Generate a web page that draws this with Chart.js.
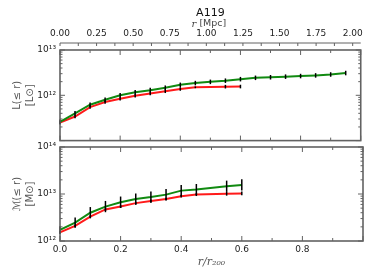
<!DOCTYPE html>
<html>
<head>
<meta charset="utf-8">
<script src="https://cdn.jsdelivr.net/npm/chart.js@4.4.1/dist/chart.umd.min.js"></script>
<style>
    html, body { margin: 0; padding: 0; background: #fff; }
    #wrap { position: relative; width: 374px; height: 280px; }
    canvas { position: absolute; left: 0; }
    #lum-chart { top: 0; }
    #mass-chart { top: 137px; }
</style>
</head>
<body>
<div id="wrap">
    <canvas id="lum-chart" width="374" height="150"></canvas>
    <canvas id="mass-chart" width="374" height="143"></canvas>
</div>
<script>
// A119 cumulative luminosity / mass profiles

const clusterName = 'A119';
const r200Mpc = 2.055;              // top axis: r/r200 = 1 -> 2.055 Mpc
const mpcLabels = [0, 0.25, 0.5, 0.75, 1.0, 1.25, 1.5, 1.75, 2.0];

// luminosity panel
const lumRadiusGreen = [0, 0.05, 0.1, 0.15, 0.2, 0.25, 0.3, 0.35, 0.4, 0.45,
                        0.5, 0.55, 0.6, 0.65, 0.7, 0.75, 0.8, 0.85, 0.9, 0.95];
const lumGreen = [2.6e11, 4.0e11, 6.2e11, 8.0e11, 1.0e12, 1.17e12, 1.3e12, 1.47e12, 1.7e12, 1.86e12,
                  1.98e12, 2.1e12, 2.27e12, 2.43e12, 2.5e12, 2.58e12, 2.66e12, 2.75e12, 2.88e12, 3.1e12];
const lumErrGreen = [0.05, 0.05, 0.05, 0.05, 0.05, 0.05, 0.05, 0.05, 0.05, 0.05,
                     0.05, 0.05, 0.05, 0.05, 0.05, 0.05, 0.05, 0.05, 0.05, 0.05];
const lumRadiusRed = [0, 0.05, 0.1, 0.15, 0.2, 0.25, 0.3, 0.35, 0.4, 0.45, 0.55, 0.6];
const lumRed = [2.5e11, 3.4e11, 5.5e11, 7.1e11, 8.4e11, 9.8e11, 1.1e12, 1.23e12, 1.38e12, 1.5e12, 1.55e12, 1.56e12];
const lumErrRed = [0.04, 0.04, 0.04, 0.04, 0.04, 0.04, 0.04, 0.04, 0.04, 0.02, 0.04, 0.04];

// mass panel
const massRadius = [0, 0.05, 0.1, 0.15, 0.2, 0.25, 0.3, 0.35, 0.4, 0.45, 0.55, 0.6];
const massGreen = [1.72e12, 2.46e12, 4.0e12, 5.4e12, 6.7e12, 7.8e12, 8.6e12, 9.7e12, 1.18e13, 1.24e13, 1.46e13, 1.56e13];
const massErrGreen = [0.08, 0.11, 0.12, 0.12, 0.12, 0.12, 0.12, 0.12, 0.12, 0.12, 0.12, 0.12];
const massRed = [1.53e12, 2.1e12, 3.3e12, 4.7e12, 5.4e12, 6.4e12, 7.1e12, 7.8e12, 9.0e12, 9.7e12, 1.01e13, 1.03e13];
const massErrRed = [0.03, 0.03, 0.03, 0.03, 0.03, 0.03, 0.03, 0.03, 0.03, 0.03, 0.04, 0.04];

const GREEN = '#118a11';
const RED = '#ff1a1a';
const FRAME = '#626262';

Chart.defaults.font.family = '"DejaVu Sans", sans-serif';
Chart.defaults.font.size = 9;
Chart.defaults.color = '#222';

const SUP = { '0': '⁰', '1': '¹', '2': '²', '3': '³', '4': '⁴', '5': '⁵', '6': '⁶', '7': '⁷', '8': '⁸', '9': '⁹' };
function powLabel(v) {
    const e = Math.log10(v);
    if (Math.abs(e - Math.round(e)) > 1e-6) return '';
    return '10' + String(Math.round(e)).split('').map(c => SUP[c]).join('');
}

function points(xs, ys) {
    return xs.map((x, i) => ({ x: x, y: ys[i] }));
}

function series(xs, ys, errs, color) {
    return {
        data: points(xs, ys),
        err: errs,
        borderColor: color,
        backgroundColor: color,
        borderWidth: 2,
        pointRadius: 0,
        fill: false,
        tension: 0
    };
}

function line(ctx, x1, y1, x2, y2) {
    ctx.beginPath();
    ctx.moveTo(x1, y1);
    ctx.lineTo(x2, y2);
    ctx.stroke();
}

// error bars, inward ticks and frame, matplotlib style
const framePlugin = {
    id: 'frameTicks',
    afterDatasetsDraw(chart) {
        const { ctx, chartArea: ca } = chart;
        const x = chart.scales.x, y = chart.scales.y;
        ctx.save();

        ctx.strokeStyle = '#000';
        ctx.lineWidth = 1.5;
        chart.data.datasets.forEach(ds => {
            ds.data.forEach((p, j) => {
                const f = Math.pow(10, ds.err[j]);
                const px = x.getPixelForValue(p.x);
                line(ctx, px, y.getPixelForValue(p.y * f), px, y.getPixelForValue(p.y / f));
            });
        });

        ctx.strokeStyle = FRAME;
        ctx.lineWidth = 1;
        for (let k = 0; k <= 10; k++) {
            const px = x.getPixelForValue(k / 10);
            const len = k % 2 === 0 ? 5 : 3;
            line(ctx, px, ca.top, px, ca.top + len);
            line(ctx, px, ca.bottom, px, ca.bottom - len);
        }
        const lo = Math.round(Math.log10(y.min)), hi = Math.round(Math.log10(y.max));
        for (let e = lo; e <= hi; e++) {
            for (let m = 1; m <= 9; m++) {
                if (e === hi && m > 1) break;
                const py = y.getPixelForValue(m * Math.pow(10, e));
                const len = m === 1 ? 5 : 2.5;
                line(ctx, ca.left, py, ca.left + len, py);
                line(ctx, ca.right, py, ca.right - len, py);
            }
        }

        ctx.lineWidth = 1.6;
        ctx.strokeRect(ca.left, ca.top, ca.right - ca.left, ca.bottom - ca.top);

        // offset top axis in Mpc
        const x2 = chart.scales.x2;
        if (x2) {
            const ay = 43;
            ctx.lineWidth = 1;
            line(ctx, ca.left, ay, ca.right, ay);
            for (let k = 0; k <= 16; k++) {
                const px = x2.getPixelForValue(k * 0.125);
                line(ctx, px, ay, px, ay + 3);
            }
            ctx.fillStyle = '#111';
            ctx.textAlign = 'center';
            ctx.textBaseline = 'middle';
            ctx.font = '11px "DejaVu Sans"';
            ctx.fillText(clusterName, (ca.left + ca.right) / 2, 13);
            const cx = (ca.left + ca.right) / 2;
            ctx.fillStyle = '#444';
            ctx.font = 'italic 10px "DejaVu Serif"';
            ctx.textAlign = 'right';
            ctx.fillText('r', cx - 14, 24);
            ctx.font = '9.5px "DejaVu Sans"';
            ctx.textAlign = 'left';
            ctx.fillText(' [Mpc]', cx - 14, 24);
        }
        ctx.restore();
    }
};

function yAxis(min, max, title, hideMin) {
    return {
        type: 'logarithmic',
        min: min,
        max: max,
        afterFit: s => { s.width = 60; },
        grid: { display: false, drawTicks: false },
        border: { display: false },
        ticks: {
            autoSkip: false,
            padding: 4,
            callback: v => (hideMin && v === min) ? '' : powLabel(v)
        },
        title: {
            display: true,
            text: title,
            color: '#555',
            font: { size: 10, lineHeight: 1.3 },
            padding: { top: 11, bottom: 0 }
        }
    };
}

const lumChart = new Chart(document.getElementById('lum-chart'), {
    type: 'line',
    data: {
        datasets: [
            series(lumRadiusGreen, lumGreen, lumErrGreen, GREEN),
            series(lumRadiusRed, lumRed, lumErrRed, RED)
        ]
    },
    options: {
        responsive: false,
        animation: false,
        layout: { padding: { top: 0, right: 11, bottom: 3, left: 0 } },
        plugins: { legend: { display: false }, tooltip: { enabled: false } },
        scales: {
            x: {
                type: 'linear',
                min: 0,
                max: 1,
                afterFit: s => { s.height = 0; },
                grid: { display: false, drawTicks: false },
                border: { display: false },
                ticks: { display: false }
            },
            x2: {
                type: 'linear',
                position: 'top',
                min: 0,
                max: r200Mpc,
                afterFit: s => { s.height = 50; },
                afterBuildTicks: s => { s.ticks = mpcLabels.map(v => ({ value: v })); },
                grid: { display: false, drawTicks: false },
                border: { display: false },
                ticks: {
                    autoSkip: false,
                    maxRotation: 0,
                    padding: 11,
                    callback: v => v.toFixed(2)
                }
            },
            y: yAxis(1e11, 1e13, ['L(≤ r)', '[L⊙]'], true)
        }
    },
    plugins: [framePlugin]
});

const massChart = new Chart(document.getElementById('mass-chart'), {
    type: 'line',
    data: {
        datasets: [
            series(massRadius, massGreen, massErrGreen, GREEN),
            series(massRadius, massRed, massErrRed, RED)
        ]
    },
    options: {
        responsive: false,
        animation: false,
        layout: { padding: { top: 10, right: 11, bottom: 0, left: 0 } },
        plugins: { legend: { display: false }, tooltip: { enabled: false } },
        scales: {
            x: {
                type: 'linear',
                min: 0,
                max: 1,
                afterFit: s => { s.height = 39; },
                grid: { display: false, drawTicks: false },
                border: { display: false },
                ticks: {
                    autoSkip: false,
                    maxRotation: 0,
                    stepSize: 0.2,
                    padding: 3,
                    callback: v => v < 0.99 ? v.toFixed(1) : ''
                },
                title: {
                    display: true,
                    text: 'r/r₂₀₀',
                    color: '#555',
                    font: { family: '"DejaVu Serif"', style: 'italic', size: 11 },
                    padding: { top: 0, bottom: 11 }
                }
            },
            y: yAxis(1e12, 1e14, ['ℳ(≤ r)', '[M⊙]'], false)
        }
    },
    plugins: [framePlugin]
});
</script>
</body>
</html>
